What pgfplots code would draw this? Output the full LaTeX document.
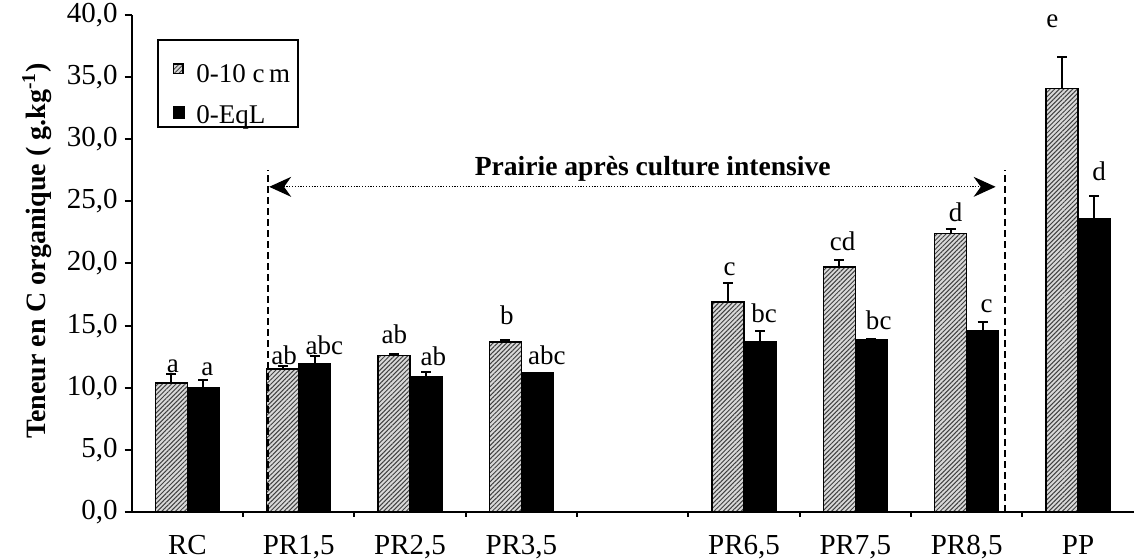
\documentclass[border=0pt]{standalone}
\usepackage{pgfplots}
\pgfplotsset{compat=1.18}
\usepackage{pgfplotstable}
\usepackage{fontspec}
\setmainfont{Liberation Serif}
\usetikzlibrary{patterns.meta,arrows.meta}

\newcommand{\fs}{\fontsize{13.5}{16}\selectfont}
\newcommand{\ft}{\fontsize{14.5}{17}\selectfont}

\pgfplotstableread{
x   h     he    b     be
0   10.4  0.70  10.0  0.65
1   11.5  0.25  11.9  0.65
2   12.6  0.15  10.9  0.35
3   13.7  0.15  11.2  0.00
5   16.9  1.50  13.7  0.85
6   19.7  0.60  13.9  0.00
7   22.4  0.40  14.6  0.70
8   34.1  2.50  23.6  1.80
}\data

\pgfplotstableread{
lx     ly     lab
-0.13  11.20  a
0.18   10.95  a
0.87   11.80  ab
1.23   12.65  abc
1.86   13.50  ab
2.21   11.70  ab
2.87   15.00  b
3.23   11.80  abc
4.87   18.95  c
5.18   15.20  bc
5.885  21.00  cd
6.21   14.65  bc
6.90   23.35  d
7.18   16.00  c
7.77   38.90  e
8.19   26.60  d
}\labels

\tikzset{
  hatchbar/.style={fill=gray!30, draw=black, line width=0.75pt,
    postaction={pattern={Lines[angle=45,distance=1.6pt,line width=0.5pt]}, pattern color=black!75}},
  blackbar/.style={fill=black, draw=black, line width=0.75pt},
}

\begin{document}
\begin{tikzpicture}
\begin{axis}[
  at={(0,0)},
  scale only axis,
  width=501pt, height=248.5pt,
  xmin=-0.5, xmax=8.5, ymin=0, ymax=40,
  clip=false,
  axis lines*=left,
  axis line style={line width=1pt},
  tick style={line width=1pt, black},
  tick align=outside,
  major tick length=3.5pt,
  minor tick length=2.5pt,
  xtick={0,...,8},
  xticklabels={RC,{PR1,5},{PR2,5},{PR3,5},{},{PR6,5},{PR7,5},{PR8,5},PP},
  major x tick style={draw=none},
  minor xtick={0.5,1.5,...,7.5},
  ytick={0,5,...,40},
  yticklabel style={/pgf/number format/fixed, /pgf/number format/fixed zerofill,
    /pgf/number format/precision=1, /pgf/number format/use comma},
  /pgf/number format/assume math mode=true,
  tick label style={font=\ft},
  xticklabel style={yshift=-4.5pt, text height=9.5pt, text depth=2pt},
  every axis y label/.style={at={(axis description cs:-0.0945,0.525)}, rotate=90, anchor=center, font=\fontsize{14}{16}\selectfont\bfseries},
  ylabel={Teneur en C organique ( g.kg\textsuperscript{-1})},
  legend style={at={(axis description cs:0.0262,0.9195)}, anchor=north west,
    draw=none, fill=none, font=\fs, row sep=6pt,
    inner xsep=5pt, inner ysep=2.5pt},
  legend cell align=left,
]
\addlegendimage{legend image code/.code={\path[draw=none,fill=none] (0pt,0pt) -- (12pt,0pt); \draw[hatchbar, line width=0.6pt] (2.5pt,0.6pt) rectangle (7.3pt,5.4pt);}}
\addlegendentry{0-10 c\,m}
\addlegendimage{legend image code/.code={\path[draw=none,fill=none] (0pt,0pt) -- (12pt,0pt); \draw[blackbar] (2.5pt,-1.3pt) rectangle (8.1pt,4.3pt);}}
\addlegendentry{0-EqL}

\addplot[ybar, bar width=16pt, bar shift=-8pt, hatchbar, forget plot] table[x=x, y=h] {\data};
\addplot[ybar, bar width=16pt, bar shift=8pt, blackbar, forget plot] table[x=x, y=b] {\data};

\addplot[draw=none, mark=none, forget plot,
  error bars/.cd, y dir=plus, y explicit,
  error bar style={draw=black, line width=1pt},
  error mark options={draw=black, line width=1pt, mark size=2.5pt, rotate=90}]
  table[x expr=\thisrow{x}-0.1437, y=h, y error=he] {\data};
\addplot[draw=none, mark=none, forget plot,
  error bars/.cd, y dir=plus, y explicit,
  error bar style={draw=black, line width=1pt},
  error mark options={draw=black, line width=1pt, mark size=2.5pt, rotate=90}]
  table[x expr=\thisrow{x}+0.1437, y=b, y error=be] {\data};

\addplot[only marks, mark=none, forget plot, nodes near coords, point meta=explicit symbolic,
  every node near coord/.append style={anchor=south, inner sep=0pt, font=\fs, text=black}]
  table[x=lx, y=ly, meta=lab] {\labels};

\draw[line width=0.9pt] (axis description cs:0.0262,0.9497) rectangle (axis description cs:0.166,0.7746);
\draw[line width=1pt, dash pattern=on 3.5pt off 2pt] (axis cs:0.724,0) -- (axis cs:0.724,27.5);
\draw[line width=1pt, dash pattern=on 3.5pt off 2pt] (axis cs:7.34,0) -- (axis cs:7.34,27.5);
\draw[line width=0.6pt, dash pattern=on 0.6pt off 0.8pt, {Stealth[length=11pt,width=10pt]}-{Stealth[length=11pt,width=10pt]}]
  (axis cs:0.735,26.17) -- (axis cs:7.26,26.17);
\node[font=\fontsize{13.8}{16}\selectfont\bfseries, anchor=base] at (axis cs:4.18,27.11) {Prairie après culture intensive};
\end{axis}
\pgfresetboundingbox
\path[use as bounding box] (-65.85pt,-24pt) rectangle (501.15pt,256pt);
\end{tikzpicture}
\end{document}
